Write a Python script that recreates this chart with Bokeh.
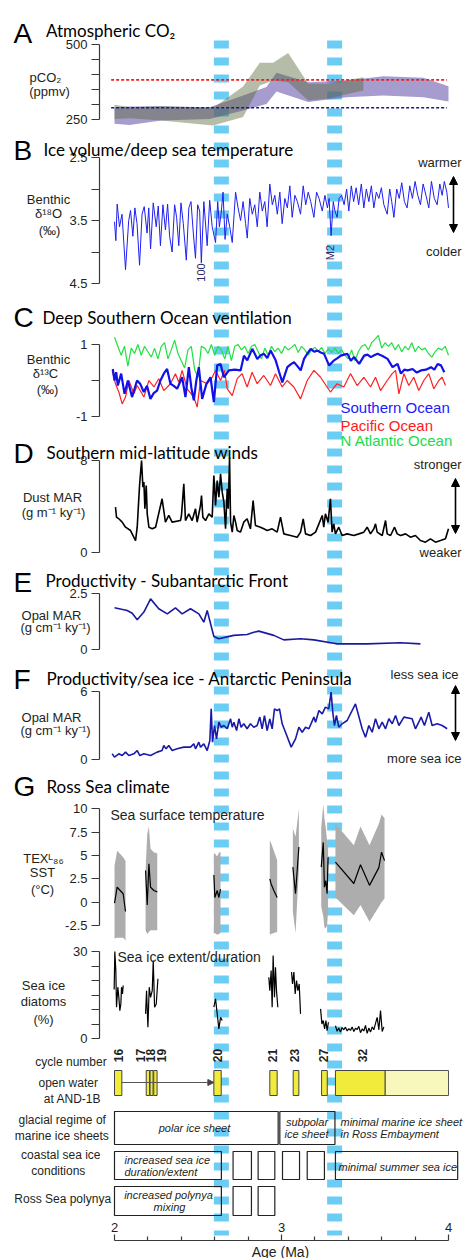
from math import pi
from bokeh.plotting import figure
from bokeh.models import (Range1d, LinearAxis, FixedTicker, NumeralTickFormatter,
                          Label, Arrow, NormalHead)
from bokeh.embed import file_html
from bokeh.resources import INLINE

# ---------------- DATA ----------------
EVENT_AGE = [2.640, 3.318]

# A: atmospheric CO2 (ppmv) envelopes
CO2_OLIVE_AGE = [2.00, 2.09, 2.28, 2.59, 2.77, 2.87, 2.95, 3.04, 3.16, 3.27, 3.49]
CO2_OLIVE_LO = [252, 254, 247, 230, 258, 363, 380, 374, 313, 319, 347]
CO2_OLIVE_HI = [299, 291, 294, 288, 360, 439, 439, 472, 369, 369, 391]
CO2_PURPLE_AGE = [2.00, 2.09, 2.28, 2.57, 2.77, 2.91, 2.97, 3.16, 3.39, 3.61, 3.85, 4.00]
CO2_PURPLE_LO = [236, 232, 247, 252, 280, 302, 343, 308, 324, 330, 324, 310]
CO2_PURPLE_HI = [291, 293, 294, 291, 330, 358, 406, 374, 380, 394, 389, 361]
CO2_REF_AGE = [1.98, 3.99]
CO2_REF_HIGH = 382
CO2_REF_LOW = 289

# B: benthic d18O
B_AGE = [2.000, 2.008, 2.016, 2.030, 2.045, 2.066, 2.085, 2.096, 2.110, 2.122,
         2.135, 2.150, 2.165, 2.178, 2.195, 2.205, 2.216, 2.232, 2.250, 2.262,
         2.275, 2.290, 2.305, 2.318, 2.330, 2.345, 2.360, 2.372, 2.385, 2.398,
         2.412, 2.430, 2.445, 2.458, 2.472, 2.485, 2.498, 2.510, 2.520, 2.535,
         2.555, 2.570, 2.585, 2.605, 2.618, 2.628, 2.640, 2.650, 2.662, 2.675,
         2.690, 2.705, 2.725, 2.740, 2.755, 2.770, 2.785, 2.795, 2.810, 2.825,
         2.840, 2.855, 2.870, 2.885, 2.900, 2.914, 2.930, 2.945, 2.960, 2.975,
         2.990, 3.004, 3.020, 3.035, 3.050, 3.064, 3.080, 3.095, 3.114, 3.130,
         3.145, 3.160, 3.175, 3.194, 3.210, 3.225, 3.244, 3.260, 3.275, 3.285,
         3.297, 3.310, 3.320, 3.333, 3.345, 3.360, 3.375, 3.390, 3.403, 3.418,
         3.432, 3.447, 3.462, 3.478, 3.493, 3.508, 3.523, 3.538, 3.553, 3.568,
         3.583, 3.598, 3.613, 3.633, 3.648, 3.660, 3.673, 3.690, 3.705, 3.720,
         3.736, 3.752, 3.768, 3.784, 3.800, 3.816, 3.832, 3.848, 3.865, 3.882,
         3.898, 3.915, 3.932, 3.948, 3.962, 3.975, 3.990, 4.000]
B_D18O = [3.52, 3.82, 3.24, 3.60, 3.40, 4.28, 3.50, 3.34, 3.75, 3.30,
          3.55, 4.21, 3.40, 3.28, 3.70, 3.30, 3.95, 3.22, 3.60, 3.27,
          3.90, 3.25, 3.65, 3.24, 3.75, 4.00, 3.25, 3.45, 3.90, 3.22,
          3.55, 4.13, 3.30, 3.20, 3.70, 4.10, 3.25, 3.35, 4.17, 3.20,
          3.90, 3.18, 3.60, 3.85, 3.20, 3.60, 3.35, 3.05, 3.80, 3.40,
          3.60, 3.85, 3.05, 3.30, 3.50, 3.20, 3.55, 3.78, 3.15, 3.40,
          3.25, 3.60, 3.05, 3.35, 3.20, 3.60, 2.92, 3.25, 3.10, 3.40,
          3.05, 3.55, 3.15, 3.30, 2.95, 3.45, 3.10, 3.20, 3.40, 2.95,
          3.25, 3.05, 3.20, 3.45, 3.05, 3.15, 3.35, 3.10, 3.30, 3.15,
          3.74, 3.20, 3.35, 3.45, 3.15, 3.10, 3.25, 3.00, 3.35, 2.95,
          3.20, 2.98, 3.25, 2.92, 3.30, 3.00, 3.20, 2.95, 3.30, 3.05,
          3.15, 2.98, 3.25, 3.40, 3.00, 3.20, 3.45, 3.00, 3.15, 2.90,
          3.20, 3.30, 2.95, 3.15, 2.88, 3.10, 3.25, 2.92, 3.10, 3.30,
          2.88, 3.15, 3.25, 2.92, 3.10, 2.88, 3.05, 3.30]

# C: benthic d13C (age, permil)
C_ATLANTIC = [(2.00, 1.20), (2.02, 0.95), (2.04, 0.70), (2.06, 0.95), (2.08, 0.40), (2.10, 0.90),
              (2.12, 0.75), (2.14, 1.00), (2.16, 0.70), (2.18, 0.95), (2.20, 0.80), (2.22, 0.65),
              (2.24, 0.90), (2.26, 0.60), (2.28, 0.95), (2.30, 1.05), (2.32, 0.60), (2.34, 0.85),
              (2.36, 1.12), (2.38, 0.75), (2.40, 0.55), (2.42, 0.35), (2.44, 0.85), (2.46, 0.95),
              (2.48, 0.30), (2.50, 0.10), (2.52, 0.95), (2.54, 0.90), (2.56, 0.75), (2.58, 1.00),
              (2.60, 0.70), (2.62, 0.95), (2.64, 0.85), (2.66, 0.60), (2.68, 0.95), (2.70, 0.55),
              (2.72, 0.95), (2.74, 1.00), (2.76, 0.85), (2.78, 0.95), (2.80, 0.75), (2.82, 0.95),
              (2.84, 1.00), (2.86, 0.80), (2.88, 0.60), (2.90, 0.90), (2.92, 0.70), (2.94, 0.95),
              (2.96, 0.80), (2.98, 0.90), (3.00, 0.75), (3.02, 0.95), (3.04, 0.85), (3.06, 0.92),
              (3.08, 1.00), (3.10, 0.78), (3.12, 0.95), (3.14, 0.85), (3.16, 0.70), (3.18, 0.85),
              (3.20, 0.92), (3.22, 0.80), (3.24, 0.92), (3.26, 0.75), (3.28, 0.88), (3.30, 0.78),
              (3.32, 0.90), (3.34, 0.75), (3.36, 0.85), (3.38, 0.70), (3.40, 0.60), (3.42, 0.85),
              (3.44, 0.55), (3.46, 0.80), (3.48, 0.95), (3.50, 1.00), (3.52, 0.85), (3.54, 1.05),
              (3.56, 1.15), (3.58, 1.25), (3.60, 0.90), (3.62, 1.05), (3.64, 0.95), (3.66, 1.05),
              (3.68, 0.85), (3.70, 1.00), (3.72, 0.80), (3.74, 0.95), (3.76, 0.85), (3.78, 1.05),
              (3.80, 0.80), (3.82, 0.95), (3.84, 0.85), (3.86, 0.90), (3.88, 0.75), (3.90, 0.65),
              (3.92, 0.80), (3.94, 0.90), (3.96, 0.85), (3.98, 0.95), (4.00, 0.70)]
C_PACIFIC = [(1.986, 0.28), (2.006, -0.09), (2.026, -0.32), (2.046, -0.65), (2.066, -0.46),
             (2.086, 0.00), (2.116, -0.37), (2.136, -0.14), (2.176, -0.46), (2.206, 0.00),
             (2.236, -0.18), (2.265, 0.05), (2.295, -0.28), (2.335, -0.09), (2.365, 0.19),
             (2.385, -0.05), (2.405, 0.28), (2.435, -0.23), (2.475, -0.46), (2.495, -0.74),
             (2.515, 0.00), (2.555, -0.09), (2.585, 0.09), (2.605, 0.28), (2.635, 0.00),
             (2.659, 0.28), (2.675, -0.23), (2.705, -0.42), (2.735, 0.05), (2.764, 0.19),
             (2.794, -0.18), (2.824, 0.23), (2.854, -0.09), (2.894, 0.14), (2.934, -0.14),
             (2.964, 0.19), (3.004, -0.18), (3.034, 0.00), (3.074, -0.18), (3.114, -0.51),
             (3.154, 0.00), (3.194, 0.28), (3.234, 0.09), (3.273, -0.18), (3.293, -0.32),
             (3.333, -0.09), (3.373, -0.18), (3.413, 0.19), (3.453, -0.14), (3.493, 0.09),
             (3.533, -0.18), (3.563, 0.09), (3.593, -0.28), (3.633, 0.00), (3.663, 0.19),
             (3.683, 0.28), (3.703, -0.37), (3.733, 0.19), (3.762, -0.14), (3.792, 0.09),
             (3.822, -0.28), (3.852, 0.00), (3.882, 0.19), (3.912, -0.23), (3.942, 0.00),
             (3.962, 0.09), (3.982, -0.14)]
C_SOUTHERN = [(1.99, 0.32), (2.00, 0.00), (2.01, 0.23), (2.02, -0.14), (2.04, 0.19), (2.06, -0.37),
              (2.08, 0.00), (2.105, -0.46), (2.135, 0.00), (2.155, -0.10), (2.175, -0.32),
              (2.195, -0.15), (2.215, -0.51), (2.235, -0.35), (2.255, -0.28), (2.275, 0.00),
              (2.295, 0.19), (2.315, 0.32), (2.335, -0.09), (2.355, -0.15), (2.375, -0.23),
              (2.405, 0.09), (2.425, -0.46), (2.445, 0.37), (2.46, -0.20), (2.475, -0.55),
              (2.49, 0.00), (2.505, 0.37), (2.525, -0.51), (2.55, -0.10), (2.575, 0.09),
              (2.595, -0.60), (2.615, 0.42), (2.635, 0.46), (2.655, 0.09), (2.685, 0.28),
              (2.72, 0.30), (2.755, 0.28), (2.775, 0.69), (2.795, 0.56), (2.825, 0.88),
              (2.855, 0.60), (2.875, 0.70), (2.895, 0.74), (2.915, 0.62), (2.935, 0.83),
              (2.965, 0.56), (2.985, 0.25), (3.005, -0.05), (3.035, 0.37), (3.055, 0.45),
              (3.075, 0.51), (3.095, 0.40), (3.115, 0.28), (3.135, 0.60), (3.155, 0.75),
              (3.175, 0.88), (3.195, 0.80), (3.215, 0.83), (3.235, 0.78), (3.255, 0.74),
              (3.285, 0.42), (3.315, 0.56), (3.335, 0.62), (3.355, 0.69), (3.375, 0.72),
              (3.395, 0.74), (3.415, 0.55), (3.435, 0.65), (3.465, 0.46), (3.495, 0.69),
              (3.515, 0.72), (3.535, 0.65), (3.555, 0.70), (3.575, 0.74), (3.605, 0.68),
              (3.635, 0.60), (3.665, 0.37), (3.695, 0.46), (3.715, 0.19), (3.735, 0.30),
              (3.755, 0.28), (3.785, 0.32), (3.81, 0.22), (3.835, 0.28), (3.865, 0.30),
              (3.895, 0.37), (3.915, 0.30), (3.935, 0.46), (3.955, 0.42), (3.975, 0.23)]

# D: dust MAR (age, g m-1 ky-1)
D_DUST = [(2.006, 3.94), (2.012, 3.07), (2.026, 2.93), (2.046, 2.64), (2.066, 2.20), (2.096, 1.91),
          (2.126, 1.04), (2.136, 2.20), (2.150, 5.83), (2.162, 8.00), (2.170, 5.68), (2.176, 6.12),
          (2.182, 3.80), (2.190, 5.83), (2.196, 3.36), (2.206, 2.20), (2.226, 2.06), (2.246, 2.20),
          (2.285, 4.67), (2.305, 2.64), (2.325, 3.22), (2.345, 2.64), (2.395, 2.78), (2.401, 3.22),
          (2.415, 5.97), (2.425, 2.78), (2.445, 3.36), (2.465, 2.78), (2.485, 3.80), (2.495, 2.64),
          (2.515, 4.09), (2.521, 4.96), (2.529, 3.07), (2.545, 2.78), (2.565, 3.36), (2.585, 3.07),
          (2.595, 6.70), (2.605, 4.09), (2.615, 6.26), (2.625, 4.81), (2.635, 6.84), (2.645, 5.25),
          (2.655, 4.38), (2.665, 2.06), (2.675, 5.54), (2.681, 3.80), (2.689, 8.29), (2.695, 2.64),
          (2.705, 1.77), (2.715, 3.22), (2.725, 2.64), (2.735, 1.91), (2.754, 1.77), (2.774, 2.64),
          (2.794, 2.93), (2.814, 2.06), (2.830, 4.52), (2.844, 2.35), (2.874, 2.20), (2.894, 2.06),
          (2.914, 1.91), (2.944, 2.06), (2.974, 1.77), (2.994, 3.07), (3.014, 1.62), (3.054, 1.48),
          (3.094, 1.33), (3.114, 1.77), (3.130, 2.93), (3.144, 1.62), (3.174, 1.48), (3.204, 1.77),
          (3.224, 2.49), (3.244, 3.22), (3.253, 2.20), (3.263, 3.36), (3.279, 2.64), (3.293, 4.67),
          (3.303, 1.77), (3.313, 2.49), (3.323, 1.62), (3.343, 2.20), (3.363, 1.48), (3.393, 1.62),
          (3.433, 1.48), (3.463, 1.62), (3.493, 1.77), (3.513, 2.20), (3.533, 1.62), (3.553, 2.06),
          (3.563, 2.49), (3.573, 1.77), (3.603, 1.48), (3.623, 2.78), (3.633, 1.62), (3.653, 1.48),
          (3.677, 2.20), (3.693, 1.62), (3.713, 1.48), (3.743, 1.62), (3.772, 1.33), (3.802, 1.48),
          (3.832, 1.04), (3.862, 0.90), (3.892, 1.19), (3.922, 0.90), (3.952, 1.04), (3.982, 1.19),
          (4.000, 2.06)]

# E: opal MAR, Subantarctic Front
E_OPAL = [(2.000, 1.86), (2.076, 1.74), (2.106, 1.62), (2.136, 1.33), (2.176, 1.67), (2.216, 2.26),
          (2.265, 1.82), (2.316, 1.59), (2.365, 1.86), (2.405, 1.59), (2.455, 1.82), (2.505, 1.59),
          (2.535, 1.22), (2.555, 1.74), (2.595, 0.58), (2.625, 0.48), (2.714, 0.63), (2.794, 0.67),
          (2.834, 0.77), (2.864, 0.82), (2.954, 0.63), (3.014, 0.43), (3.114, 0.48), (3.194, 0.43),
          (3.313, 0.28), (3.333, 0.25), (3.513, 0.25), (3.713, 0.30), (3.832, 0.25)]

# F: opal MAR, Antarctic Peninsula
F_OPAL = [(1.986, 0.50), (2.000, 0.21), (2.026, 0.50), (2.046, 0.35), (2.066, 0.65), (2.086, 0.35),
          (2.116, 0.50), (2.136, 0.79), (2.152, 0.35), (2.176, 0.50), (2.216, 0.35), (2.255, 0.65),
          (2.285, 0.79), (2.295, 1.24), (2.309, 0.94), (2.325, 1.24), (2.345, 0.79), (2.375, 0.94),
          (2.415, 1.09), (2.455, 1.09), (2.475, 1.38), (2.485, 0.94), (2.505, 1.53), (2.515, 1.09),
          (2.535, 1.38), (2.555, 0.79), (2.571, 1.68), (2.579, 4.47), (2.587, 1.53), (2.599, 3.00),
          (2.611, 1.82), (2.625, 3.29), (2.639, 2.85), (2.655, 3.00), (2.675, 2.71), (2.695, 3.59),
          (2.705, 2.85), (2.715, 3.29), (2.731, 2.56), (2.745, 3.59), (2.758, 2.85), (2.774, 3.15),
          (2.794, 2.71), (2.814, 3.15), (2.834, 2.85), (2.854, 3.00), (2.870, 3.74), (2.884, 2.71),
          (2.898, 3.88), (2.914, 2.56), (2.930, 3.59), (2.944, 2.71), (2.958, 4.47), (2.974, 4.32),
          (2.988, 4.47), (3.004, 3.15), (3.024, 2.41), (3.058, 1.09), (3.084, 1.82), (3.104, 2.85),
          (3.124, 2.41), (3.144, 2.85), (3.164, 2.71), (3.194, 3.74), (3.204, 3.29), (3.224, 4.32),
          (3.244, 4.03), (3.263, 4.62), (3.283, 4.47), (3.297, 5.94), (3.307, 4.18), (3.317, 3.00),
          (3.329, 3.88), (3.343, 2.85), (3.363, 3.15), (3.393, 3.44), (3.443, 4.91), (3.483, 2.71),
          (3.503, 1.97), (3.523, 3.00), (3.543, 2.41), (3.563, 3.59), (3.583, 2.71), (3.603, 3.29),
          (3.623, 2.71), (3.643, 3.59), (3.663, 3.15), (3.683, 3.88), (3.703, 3.00), (3.733, 3.74),
          (3.782, 3.59), (3.802, 2.71), (3.822, 3.29), (3.836, 3.74), (3.856, 3.00), (3.882, 4.18),
          (3.902, 3.00), (3.932, 3.15), (3.962, 3.00), (3.992, 2.71)]

# G: Ross Sea, TEX86L SST (one list per glacial/interglacial cycle)
SST_AGE = [[2.000, 2.016, 2.052, 2.066],
           [2.186, 2.196, 2.206, 2.216, 2.236, 2.256],
           [2.595, 2.601, 2.615, 2.625, 2.635],
           [2.930, 2.938, 2.954, 2.974],
           [3.068, 3.084, 3.104],
           [3.238, 3.250, 3.257, 3.265, 3.273, 3.279],
           [3.323, 3.433, 3.473, 3.527, 3.583, 3.599, 3.617]]
SST_VAL = [[-0.1, 1.6, 0.9, -1.0],
           [3.4, -0.3, 4.1, 1.6, 1.25, 1.1],
           [2.9, 0.5, 1.25, 0.5, 1.4],
           [2.5, 1.95, 1.25, 0.5],
           [3.75, 0.9, 5.9],
           [3.75, 6.4, 1.6, 2.3, 0.9, 4.8],
           [4.3, 2.0, 4.0, 1.8, 3.7, 5.35, 4.45]]
SST_HI = [[3.9, 5.5, 4.8, 4.4],
          [3.4, 7.3, 8.1, 5.7, 5.35, 5.2],
          [5.2, 5.2, 4.9, 5.3, 5.4],
          [6.6, 6.3, 5.5, 4.5],
          [7.9, 7.0, 10.0],
          [8.0, 10.5, 9.0, 8.0, 6.5, 6.0],
          [8.4, 6.1, 8.1, 6.1, 8.4, 9.4, 9.0]]
SST_LO = [[-3.9, -3.8, -3.8, -4.1],
          [-3.0, -3.4, -3.2, -3.0, -3.0, -3.0],
          [-3.4, -3.3, -3.5, -3.4, -3.3],
          [-3.5, -3.4, -3.3, -3.2],
          [-1.0, -3.3, 3.5],
          [-0.5, -1.5, -2.7, -2.8, -2.5, -1.0],
          [0.5, -1.4, -0.3, -2.1, -0.5, 0.0, 0.4]]

# G: sea-ice diatoms (%)
DIA_AGE = [[1.998, 2.002, 2.008, 2.012, 2.020, 2.026, 2.032, 2.038, 2.042, 2.048, 2.052],
           [2.186, 2.192, 2.200, 2.208, 2.216, 2.226, 2.232, 2.240, 2.250, 2.260],
           [2.595, 2.605, 2.615, 2.625, 2.635, 2.645],
           [2.924, 2.930, 2.938, 2.944, 2.950, 2.958, 2.964, 2.970, 2.978],
           [3.060, 3.066, 3.074, 3.082, 3.090, 3.098, 3.106, 3.114],
           [3.234, 3.242, 3.250, 3.258, 3.266, 3.273, 3.281],
           [3.323, 3.333, 3.343, 3.353, 3.363, 3.373, 3.383, 3.393, 3.403, 3.413,
            3.423, 3.433, 3.443, 3.453, 3.463, 3.473, 3.483, 3.493, 3.503, 3.513,
            3.523, 3.533, 3.543, 3.553, 3.563, 3.573, 3.583, 3.593, 3.603, 3.613]]
DIA_VAL = [[16.9, 30.0, 23.4, 10.8, 17.7, 14.2, 9.6, 11.9, 17.7, 15.4, 18.3],
           [8.5, 16.5, 3.9, 17.7, 14.2, 16.5, 26.9, 10.8, 11.9, 20.6],
           [10.8, 13.7, 8.5, 3.3, 7.3, 6.2],
           [21.1, 16.5, 23.4, 10.8, 28.6, 14.2, 24.6, 16.5, 10.8],
           [22.9, 18.8, 22.9, 15.4, 20.0, 16.5, 18.8, 8.5],
           [10.2, 5.0, 6.2, 3.3, 6.2, 2.7, 5.6],
           [4.4, 2.5, 3.6, 2.2, 3.8, 3.0, 3.9, 2.6, 3.4, 2.8,
            4.0, 2.4, 3.5, 3.1, 4.2, 2.0, 3.3, 2.6, 4.5, 1.8,
            3.6, 2.2, 4.0, 3.0, 5.2, 7.3, 3.0, 9.6, 2.4, 4.0]]

# open water at AND-1B
CYCLE_NUMBER = ["16", "17", "18", "19", "20", "21", "23", "27", "32"]
CYCLE_LABEL_AGE = [2.024, 2.156, 2.216, 2.281, 2.617, 2.946, 3.078, 3.251, 3.485]
OW_START = [2.000, 2.190, 2.213, 2.235, 2.595, 2.930, 3.070, 3.240, 3.323]
OW_END = [2.044, 2.210, 2.231, 2.255, 2.639, 2.974, 3.104, 3.274, 3.620]
OW_PARTIAL = [3.620, 4.000]

GLACIAL_START = [2.00, 2.99]
GLACIAL_END = [2.98, 3.32]
COASTAL_START = [2.00, 2.71, 2.86, 3.006, 3.154, 3.323]
COASTAL_END = [2.64, 2.82, 2.96, 3.108, 3.257, 4.055]
POLYNYA_START = [2.00, 2.71, 2.86]
POLYNYA_END = [2.64, 2.82, 2.96]

X_TICKS = [2, 3, 4]
X_MINOR = [2.2, 2.4, 2.6, 2.8, 3.2, 3.4, 3.6, 3.8]

# ---------------- LAYOUT ----------------
W, H = 465, 1258
TOP, BOT = 0, H             # page pixel rows of the frame (page has no margin)
PX2, PXMA = 114.0, 167.0    # page x of age 2 Ma, pixels per Ma


def px2age(px):
    return 2 + (px - PX2) / PXMA


def prange(vt, yt, vb, yb):
    s = (vt - vb) / (yb - yt)
    return Range1d(start=vb - (BOT - yb) * s, end=vt + (yt - TOP) * s)


p = figure(width=W, height=H, x_range=Range1d(px2age(0), px2age(W)),
           y_range=Range1d(BOT, TOP), x_axis_type=None, y_axis_type=None,
           toolbar_location=None, output_backend="svg", min_border=0)
p.outline_line_color = None
p.background_fill_color = "white"
p.border_fill_color = "white"

p.extra_y_ranges = {
    "A": prange(500, 44, 250, 119),
    "B": prange(2.5, 157, 4.5, 283),
    "C": prange(1, 344, -1, 416),
    "D": prange(8, 460, 0, 552),
    "E": prange(2.5, 593, 0, 649),
    "F": prange(6, 691, 0, 759),
    "SST": prange(10, 808.3, -2.5, 925),
    "DIA": prange(30, 951, 0, 1038),
}

AX_COL = "#3a3a3a"
TXT = "#231f20"
SANS = "Liberation Sans"
TITLE = "Lato"
AXIS_X = px2age(99)


def yaxis(name, lo, hi, major, minor):
    ax = LinearAxis(y_range_name=name, fixed_location=AXIS_X, bounds=(lo, hi),
                    ticker=FixedTicker(ticks=major, minor_ticks=minor),
                    formatter=NumeralTickFormatter(format="0.[0]"),
                    major_tick_out=8, major_tick_in=0, minor_tick_out=8, minor_tick_in=0,
                    axis_line_color=AX_COL, major_tick_line_color=AX_COL,
                    minor_tick_line_color=AX_COL, axis_line_width=1.2,
                    major_tick_line_width=1.2, minor_tick_line_width=1.2,
                    major_label_text_font=SANS, major_label_text_font_size="13px",
                    major_label_text_color=TXT, major_label_standoff=4)
    p.add_layout(ax, "left")


def txt(px, py, s, size=13, font=SANS, align="center", baseline="middle",
        color=TXT, style="normal", angle=0.0):
    p.add_layout(Label(x=px2age(px), y=py, text=s, text_font=font,
                       text_font_size=f"{size}px", text_align=align,
                       text_baseline=baseline, text_color=color,
                       text_font_style=style, angle=angle))


def arrow(px, y0, y1):
    p.add_layout(Arrow(x_start=px2age(px), y_start=y0, x_end=px2age(px), y_end=y1,
                       start=NormalHead(size=8, fill_color="black", line_color="black"),
                       end=NormalHead(size=8, fill_color="black", line_color="black"),
                       line_width=1.6, line_color="black"))


# event bands (blue dashed)
p.segment(x0=EVENT_AGE, y0=[40, 40], x1=EVENT_AGE, y1=[1235, 1235],
          line_color="#6ccdf4", line_width=15, line_dash="8 9")

# ---- A ----
p.varea(x=CO2_PURPLE_AGE, y1=CO2_PURPLE_LO, y2=CO2_PURPLE_HI, y_range_name="A",
        fill_color="#6a5aae", fill_alpha=0.6)
p.varea(x=CO2_OLIVE_AGE, y1=CO2_OLIVE_LO, y2=CO2_OLIVE_HI, y_range_name="A",
        fill_color="#5a6b3c", fill_alpha=0.45)
p.line(CO2_REF_AGE, [CO2_REF_HIGH] * 2, y_range_name="A", line_color="#ee2222",
       line_width=1.6, line_dash="3 2")
p.line(CO2_REF_AGE, [CO2_REF_LOW] * 2, y_range_name="A", line_color="#1b1b7a",
       line_width=1.6, line_dash="3 2")
yaxis("A", 250, 500, [250, 500], [300, 350, 400, 450])

# ---- B ----
p.line(B_AGE, B_D18O, y_range_name="B", line_color="#1f1ff0", line_width=1)
yaxis("B", 2.5, 4.5, [2.5, 3.5, 4.5], [3.0, 4.0])

# ---- C ----
for series, col, lw in ((C_ATLANTIC, "#22e040", 1.2), (C_PACIFIC, "#ff2020", 1.2),
                        (C_SOUTHERN, "#1212e8", 2.2)):
    p.line([a for a, _ in series], [v for _, v in series], y_range_name="C",
           line_color=col, line_width=lw)
yaxis("C", -1, 1, [-1, 1], [0])

# ---- D ----
p.line([a for a, _ in D_DUST], [v for _, v in D_DUST], y_range_name="D",
       line_color="black", line_width=1.6)
yaxis("D", 0, 8, [0, 8], [])

# ---- E ----
p.line([a for a, _ in E_OPAL], [v for _, v in E_OPAL], y_range_name="E",
       line_color="#1a1aa0", line_width=1.6)
yaxis("E", 0, 2.5, [0, 2.5], [])

# ---- F ----
p.line([a for a, _ in F_OPAL], [v for _, v in F_OPAL], y_range_name="F",
       line_color="#1a1aa8", line_width=1.6)
yaxis("F", 0, 6, [0, 6], [])

# ---- G SST ----
for ag, lo, hi in zip(SST_AGE, SST_LO, SST_HI):
    p.varea(x=ag, y1=lo, y2=hi, y_range_name="SST", fill_color="#adadad")
p.multi_line(SST_AGE, SST_VAL, y_range_name="SST", line_color="black", line_width=1.2)
yaxis("SST", -2.5, 10, [-2.5, 0, 2.5, 5, 7.5, 10], [])

# ---- G diatoms ----
p.multi_line(DIA_AGE, DIA_VAL, y_range_name="DIA", line_color="black", line_width=1.2)
yaxis("DIA", 0, 30, [0, 30], [5, 10, 15, 20, 25])

# ---- open water / regimes ----
p.add_layout(Arrow(x_start=OW_END[0], y_start=1082, x_end=OW_START[4], y_end=1082,
                   end=NormalHead(size=6, fill_color="#444444", line_color="#444444"),
                   line_width=1, line_color="#555555"))
p.quad(left=[OW_PARTIAL[0]], right=[OW_PARTIAL[1]], top=[1070], bottom=[1095],
       fill_color="#f8f8bc", line_color="#555555", line_width=1)
p.quad(left=OW_START, right=OW_END, top=[1070] * len(OW_START), bottom=[1095] * len(OW_START),
       fill_color="#f1ec3c", line_color="#444444", line_width=1)
p.quad(left=GLACIAL_START, right=GLACIAL_END, top=[1111] * 2, bottom=[1144] * 2,
       fill_color=None, line_color="#222222", line_width=1.2)
p.quad(left=COASTAL_START, right=COASTAL_END, top=[1151] * 6, bottom=[1179] * 6,
       fill_color=None, line_color="#222222", line_width=1.2)
p.quad(left=POLYNYA_START, right=POLYNYA_END, top=[1186] * 3, bottom=[1215] * 3,
       fill_color=None, line_color="#222222", line_width=1.2)

for lab, ag in zip(CYCLE_NUMBER, CYCLE_LABEL_AGE):
    p.add_layout(Label(x=ag, y=1055, text=lab, text_font=SANS, text_font_size="12px",
                       text_font_style="bold", text_align="center", text_baseline="middle",
                       angle=pi / 2, text_color=TXT))

# x axis
xax = LinearAxis(fixed_location=1240, bounds=(2, 4),
                 ticker=FixedTicker(ticks=X_TICKS, minor_ticks=X_MINOR),
                 formatter=NumeralTickFormatter(format="0"),
                 major_tick_out=6, major_tick_in=0, minor_tick_out=4, minor_tick_in=0,
                 axis_line_color=AX_COL, major_tick_line_color=AX_COL,
                 minor_tick_line_color=AX_COL, axis_line_width=1.2,
                 major_tick_line_width=1.2, minor_tick_line_width=1.2,
                 major_label_text_font=SANS, major_label_text_font_size="13px",
                 major_label_text_color=TXT, major_label_standoff=3)
p.add_layout(xax, "above")
txt(280, 1251, "Age (Ma)", size=14)

# ---------------- TEXT ----------------
# panel letters and titles
for letter, by, title, tx, ty in (("A", 33, "Atmospheric CO₂", 45.5, 29.5),
                                  ("B", 150, "Ice volume/deep sea temperature", 43, 149),
                                  ("C", 316.5, "Deep Southern Ocean ventilation", 42, 317),
                                  ("D", 453, "Southern mid-latitude winds", 46, 452),
                                  ("E", 581.5, "Productivity - Subantarctic Front", 45, 579.5),
                                  ("F", 679, "Productivity/sea ice  - Antarctic Peninsula", 46, 677.5),
                                  ("G", 786, "Ross Sea climate", 46, 786)):
    txt(13, by, letter, size=28, align="left", baseline="alphabetic", color="black")
    txt(tx, ty, title, size=17, font=TITLE, align="left", baseline="alphabetic", color="black")

# left-hand axis labels
for s, x, y in (("pCO₂", 45, 77), ("(ppmv)", 49, 91),
                ("Benthic", 48, 199), ("δ¹⁸O", 48, 213), ("(‰)", 49, 230),
                ("Benthic", 48, 359), ("δ¹³C", 45, 373), ("(‰)", 47, 389),
                ("Dust MAR", 52, 497), ("(g m⁻¹ ky⁻¹)", 53, 512),
                ("Opal MAR", 51, 615), ("(g cm⁻¹ ky⁻¹)", 55, 627),
                ("Opal MAR", 51, 717), ("(g cm⁻¹ ky⁻¹)", 55, 730),
                ("TEXᴸ₈₆", 43, 858), ("SST", 42, 872), ("(°C)", 42, 889),
                ("Sea ice", 43, 985), ("diatoms", 43, 1001), ("(%)", 43, 1019)):
    txt(x, y, s, size=13)

# right-hand annotations
txt(461, 162, "warmer", align="right")
txt(461, 251, "colder", align="right")
arrow(453, 176, 232)
txt(461, 464, "stronger", align="right")
txt(461, 552, "weaker", align="right")
arrow(455, 478, 533)
txt(458, 674, "less sea ice", align="right")
txt(461, 758, "more sea ice", align="right")
arrow(455, 685, 740)

# event labels in B
txt(200, 272, "100", size=11, color="#2a2a70", angle=pi / 2)
txt(329, 252, "M2", size=11, color="#2a2a70", angle=pi / 2)

# C legend
txt(340, 407, "Southern Ocean", size=15, align="left", baseline="alphabetic", color="#1a1aff")
txt(340, 425, "Pacific Ocean", size=15, align="left", baseline="alphabetic", color="#ff1a1a")
txt(340, 440, "N Atlantic Ocean", size=15, align="left", baseline="alphabetic", color="#18dd48")

# G subtitles
txt(110, 814, "Sea surface temperature", size=14, align="left", baseline="alphabetic")
txt(117, 956, "Sea ice extent/duration", size=14, align="left", baseline="alphabetic")

# row labels
for s, x, y in (("cycle number", 70.5, 1061), ("open water", 67.7, 1082), ("at AND-1B", 72, 1098),
                ("glacial regime of", 61.7, 1119), ("marine ice sheets", 61.3, 1135),
                ("coastal sea ice", 60.3, 1154), ("conditions", 57.8, 1170),
                ("Ross Sea polynya", 62.2, 1198)):
    txt(x, y, s, size=12)

# box texts
for s, x, y, al in (("polar ice sheet", 194, 1127, "center"),
                    ("subpolar", 306.5, 1121, "center"), ("ice sheet", 306, 1133.5, "center"),
                    ("minimal marine ice sheet", 340, 1121, "left"),
                    ("in Ross Embayment", 340, 1133.5, "left"),
                    ("increased sea ice", 124, 1159, "left"),
                    ("duration/extent", 124, 1171.5, "left"),
                    ("minimal summer sea ice", 338, 1166, "left"),
                    ("increased polynya", 168, 1194, "center"),
                    ("mixing", 169, 1206.5, "center")):
    txt(x, y, s, size=11, style="italic", align=al)

open("out.html", "w").write(file_html(p, INLINE))
